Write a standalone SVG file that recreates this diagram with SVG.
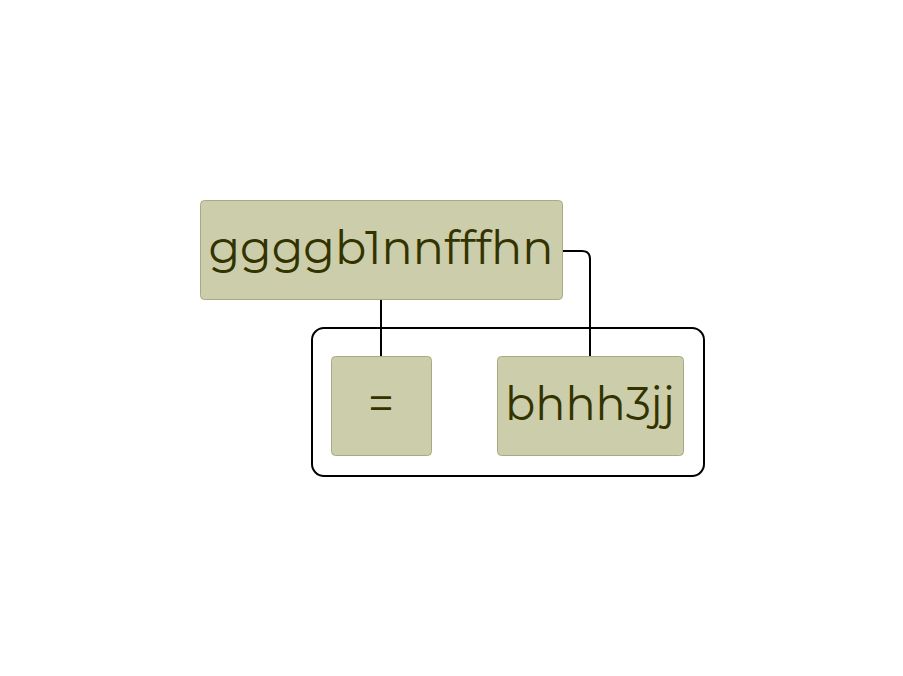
<svg xmlns="http://www.w3.org/2000/svg" width="903" height="676" viewBox="0 0 903 676">
<style>
.node{fill:#cccdab;stroke:#a9aa82;stroke-width:1}
.lbl{font-family:"Montserrat","Noto Sans","Liberation Sans",sans-serif;fill:#333300;text-anchor:middle}
.edge{fill:none;stroke:#000;stroke-width:2}
</style>
<rect width="903" height="676" fill="#fff"/>
<g id="group">
<rect x="312" y="328" width="392" height="148" rx="12" fill="none" stroke="#000" stroke-width="2"/>
</g>
<g id="connectors">
<path class="edge" d="M381 300 V356"/>
<path class="edge" d="M563 251 H582 Q590 251 590 259 V356"/>
</g>
<g id="n1">
<rect class="node" x="200.5" y="200.5" width="362" height="99" rx="4"/>
<text class="lbl" x="381" y="264" font-size="46" textLength="345" lengthAdjust="spacingAndGlyphs">ggggb1nnfffhn</text>
</g>
<g id="n2">
<rect class="node" x="331.5" y="356.5" width="100" height="99" rx="4"/>
<text class="lbl" x="381" y="420" font-size="46">=</text>
</g>
<g id="n3">
<rect class="node" x="497.5" y="356.5" width="186" height="99" rx="4"/>
<text class="lbl" x="590" y="420" font-size="46" textLength="170" lengthAdjust="spacingAndGlyphs">bhhh3jj</text>
</g>
</svg>
